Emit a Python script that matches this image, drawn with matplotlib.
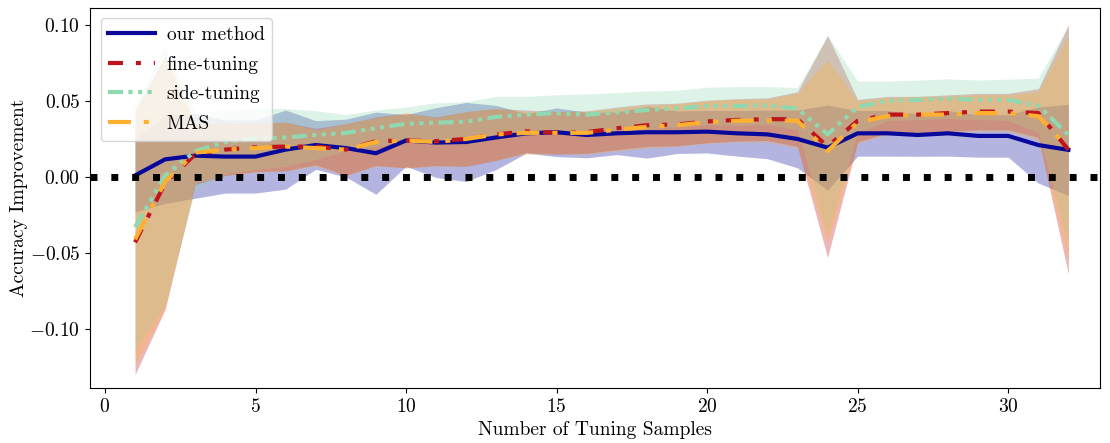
import numpy as np
import matplotlib
matplotlib.use('Agg')
import matplotlib.pyplot as plt

plt.rcParams['font.family'] = 'serif'
plt.rcParams['font.serif'] = ['cmr10']
plt.rcParams['mathtext.fontset'] = 'cm'
plt.rcParams['axes.formatter.use_mathtext'] = True
plt.rcParams['font.size'] = 14

# ---- data
n_samples = np.arange(1, 33)

ours_mean = [0.001, 0.0116, 0.014, 0.0134, 0.0134, 0.018, 0.021, 0.019, 0.0156, 0.024,
             0.0226, 0.023, 0.026, 0.0287, 0.0294, 0.0276, 0.0287, 0.0294, 0.0294, 0.0298,
             0.0287, 0.028, 0.025, 0.0193, 0.0287, 0.0287, 0.0276, 0.0287, 0.027, 0.027,
             0.021, 0.0178]
ours_std = [0.024, 0.029, 0.028, 0.024, 0.024, 0.026, 0.016, 0.019, 0.027, 0.017,
            0.023, 0.026, 0.021, 0.013, 0.016, 0.015, 0.014, 0.017, 0.014, 0.014,
            0.015, 0.016, 0.019, 0.028, 0.015, 0.015, 0.014, 0.015, 0.014, 0.014,
            0.025, 0.030]

ft_mean = [-0.043, -0.004, 0.015, 0.018, 0.0195, 0.020, 0.020, 0.018, 0.0235, 0.024,
           0.0235, 0.025, 0.028, 0.030, 0.029, 0.0295, 0.032, 0.034, 0.0345, 0.0365,
           0.0375, 0.038, 0.038, 0.020, 0.037, 0.041, 0.041, 0.042, 0.043, 0.043,
           0.042, 0.018]
ft_std = [0.087, 0.083, 0.020, 0.017, 0.016, 0.016, 0.012, 0.017, 0.016, 0.018,
          0.016, 0.018, 0.017, 0.014, 0.014, 0.014, 0.014, 0.014, 0.014, 0.014,
          0.014, 0.014, 0.018, 0.073, 0.014, 0.012, 0.012, 0.012, 0.012, 0.012,
          0.016, 0.082]

st_mean = [-0.033, 0.001, 0.017, 0.023, 0.025, 0.026, 0.0276, 0.029, 0.032, 0.035,
           0.0357, 0.0364, 0.0395, 0.041, 0.042, 0.041, 0.0425, 0.044, 0.045, 0.0467,
           0.0467, 0.047, 0.045, 0.028, 0.046, 0.050, 0.0507, 0.0515, 0.0507, 0.0507,
           0.047, 0.0276]
st_std = [0.080, 0.085, 0.025, 0.021, 0.020, 0.019, 0.016, 0.012, 0.012, 0.011,
          0.013, 0.013, 0.0135, 0.012, 0.012, 0.0136, 0.013, 0.0125, 0.012, 0.0123,
          0.0127, 0.0124, 0.0138, 0.065, 0.017, 0.013, 0.013, 0.013, 0.013, 0.0136,
          0.018, 0.072]

mas_mean = [-0.041, -0.003, 0.016, 0.018, 0.019, 0.020, 0.019, 0.018, 0.023, 0.024,
            0.023, 0.025, 0.028, 0.029, 0.029, 0.029, 0.031, 0.033, 0.034, 0.036,
            0.037, 0.037, 0.037, 0.017, 0.036, 0.040, 0.041, 0.041, 0.042, 0.042,
            0.040, 0.019]
mas_std = [0.083, 0.083, 0.020, 0.017, 0.016, 0.016, 0.012, 0.017, 0.016, 0.018,
           0.016, 0.018, 0.017, 0.014, 0.014, 0.014, 0.014, 0.014, 0.014, 0.014,
           0.014, 0.014, 0.018, 0.060, 0.014, 0.012, 0.012, 0.012, 0.012, 0.012,
           0.016, 0.074]

labels = ['our method', 'fine-tuning', 'side-tuning', 'MAS']
means = [ours_mean, ft_mean, st_mean, mas_mean]
stds = [ours_std, ft_std, st_std, mas_std]
colors = ['#08089a', '#c0141c', '#8fd8b0', '#ffb030']
dashes = [None, (3.6, 3.1, 1.2, 3.1), (3.6, 1.3, 1.0, 1.3, 1.0, 1.3, 1.0, 1.3),
          (5.5, 3.1, 1.2, 3.1)]

fig = plt.figure(figsize=(11.1, 4.43), dpi=100)
ax = fig.add_axes([0.081, 0.124, 0.910, 0.859])

for m, s, c in zip(means, stds, colors):
    m = np.array(m); s = np.array(s)
    ax.fill_between(n_samples, m - s, m + s, color=c, alpha=0.3, linewidth=0)

for m, c, d, lab in zip(means, colors, dashes, labels):
    if d is None:
        ax.plot(n_samples, m, color=c, lw=3, label=lab)
    else:
        ax.plot(n_samples, m, color=c, lw=3, dashes=d, label=lab)

ax.axhline(0, color='k', lw=5, linestyle=(0, (1, 2)))

ax.set_xlim(-0.5, 33.05)
ax.set_ylim(-0.1388, 0.1114)
ax.set_xticks([0, 5, 10, 15, 20, 25, 30])
ax.set_yticks([-0.10, -0.05, 0.00, 0.05, 0.10])
ax.set_xlabel('Number of Tuning Samples')
ax.set_ylabel('Accuracy Improvement', labelpad=1)
ax.legend(loc='upper left', fontsize=14, handlelength=2.4, labelspacing=0.6,
          borderpad=0.4, borderaxespad=0.55, handletextpad=0.6)

plt.savefig('out.png', dpi=100)
